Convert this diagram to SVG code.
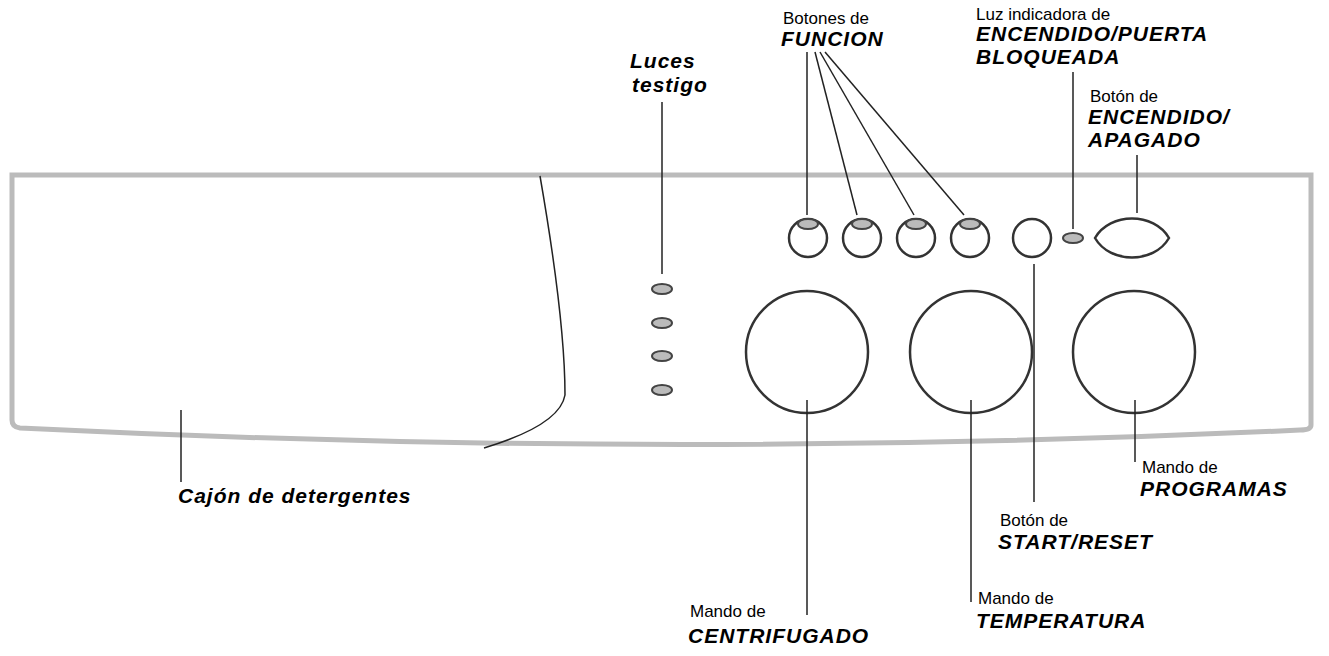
<svg xmlns="http://www.w3.org/2000/svg" width="1329" height="656" viewBox="0 0 1329 656">
<style>
.t{font-family:"Liberation Sans",Arial,sans-serif;font-size:17px;fill:#000}
.b{font-family:"Liberation Sans",Arial,sans-serif;font-size:21px;font-weight:bold;font-style:italic;letter-spacing:1px;fill:#000}
.l{stroke:#222;stroke-width:1.5;fill:none}
.o{stroke:#333;stroke-width:2.5;fill:#fff}
.led{stroke:#444;stroke-width:2;fill:#bbb}
</style>
<rect width="1329" height="656" fill="#fff"/>
<g id="panel">
<path d="M12,175 H1311 V425 Q1311,430 1300,430 Q665,460 20,428 Q12,427 12,420 Z" fill="none" stroke="#bbb" stroke-width="5"/>
<path d="M540,176 Q565,320 565,395 Q560,425 484,448" class="l"/>
</g>
<g id="leds">
<ellipse cx="662" cy="289" rx="10" ry="5" class="led"/>
<ellipse cx="662" cy="323" rx="10" ry="5" class="led"/>
<ellipse cx="662" cy="356" rx="10" ry="5" class="led"/>
<ellipse cx="662" cy="390" rx="10" ry="5" class="led"/>
</g>
<g id="func-buttons">
<circle cx="808" cy="238" r="19" class="o"/><ellipse cx="808" cy="224" rx="10" ry="5" class="led"/>
<circle cx="862" cy="238" r="19" class="o"/><ellipse cx="862" cy="224" rx="10" ry="5" class="led"/>
<circle cx="916" cy="238" r="19" class="o"/><ellipse cx="916" cy="224" rx="10" ry="5" class="led"/>
<circle cx="970" cy="238" r="19" class="o"/><ellipse cx="970" cy="224" rx="10" ry="5" class="led"/>
</g>
<g id="start"><circle cx="1032" cy="238" r="19" class="o"/></g>
<g id="power-led"><ellipse cx="1073" cy="238" rx="10" ry="5" class="led"/></g>
<g id="power"><path d="M1095,238 C1110,212 1154,212 1169,238 C1154,264 1110,264 1095,238 Z" class="o"/></g>
<g id="knob-centrifugado"><circle cx="807" cy="352" r="61" class="o"/></g>
<g id="knob-temperatura"><circle cx="971" cy="352" r="61" class="o"/></g>
<g id="knob-programas"><circle cx="1134" cy="352" r="61" class="o"/></g>
<g id="connectors">
<line x1="662" y1="102" x2="662" y2="274" class="l"/>
<line x1="807" y1="52" x2="807" y2="215" class="l"/>
<line x1="815" y1="52" x2="857" y2="215" class="l"/>
<line x1="820" y1="52" x2="914" y2="215" class="l"/>
<line x1="825" y1="52" x2="964" y2="215" class="l"/>
<line x1="1073" y1="72" x2="1073" y2="229" class="l"/>
<line x1="1137" y1="155" x2="1137" y2="213" class="l"/>
<line x1="1034" y1="264" x2="1034" y2="502" class="l"/>
<line x1="1135" y1="400" x2="1135" y2="462" class="l"/>
<line x1="971" y1="400" x2="971" y2="602" class="l"/>
<line x1="807" y1="400" x2="807" y2="615" class="l"/>
<line x1="181" y1="410" x2="181" y2="482" class="l"/>
</g>
<g id="labels">
<text x="630" y="68" class="b">Luces</text>
<text x="632" y="92" class="b">testigo</text>
<text x="783" y="24" class="t">Botones de</text>
<text x="781" y="46" class="b">FUNCION</text>
<text x="976" y="20" class="t">Luz indicadora de</text>
<text x="976" y="41" class="b">ENCENDIDO/PUERTA</text>
<text x="976" y="64" class="b">BLOQUEADA</text>
<text x="1090" y="102" class="t">Botón de</text>
<text x="1088" y="124" class="b">ENCENDIDO/</text>
<text x="1088" y="147" class="b">APAGADO</text>
<text x="1142" y="473" class="t">Mando de</text>
<text x="1140" y="496" class="b">PROGRAMAS</text>
<text x="1000" y="526" class="t">Botón de</text>
<text x="998" y="549" class="b">START/RESET</text>
<text x="978" y="604" class="t">Mando de</text>
<text x="976" y="628" class="b">TEMPERATURA</text>
<text x="690" y="617" class="t">Mando de</text>
<text x="688" y="643" class="b">CENTRIFUGADO</text>
<text x="178" y="503" class="b">Cajón de detergentes</text>
</g>
</svg>
